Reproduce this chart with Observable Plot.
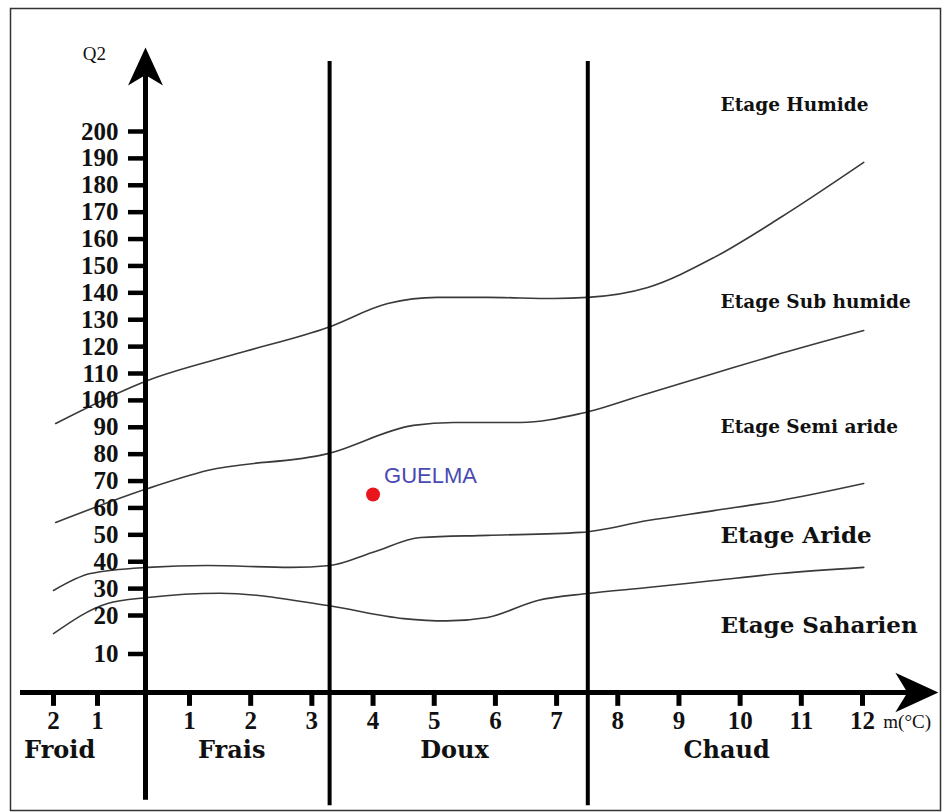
<!DOCTYPE html>
<html>
<head>
<meta charset="utf-8">
<script src="https://cdn.jsdelivr.net/npm/d3@7"></script>
<script src="https://cdn.jsdelivr.net/npm/@observablehq/plot@0.6"></script>
<style>
  body { margin: 0; background: #fff; }
</style>
</head>
<body>
<div id="chart"></div>
<script>
// ---- Data ----
const q2Ticks = [10, 20, 30, 40, 50, 60, 70, 80, 90, 100, 110, 120, 130, 140, 150, 160, 170, 180, 190, 200];
const mTicks = [-2, -1, 1, 2, 3, 4, 5, 6, 7, 8, 9, 10, 11, 12];
const mTickLabels = ["2", "1", "1", "2", "3", "4", "5", "6", "7", "8", "9", "10", "11", "12"];

const thermalZones = ["Froid", "Frais", "Doux", "Chaud"];
const thermalZoneM = [-1.86, 1.69, 5.33, 9.78];
const zoneDividersM = [3.29, 7.51];

const stagesUpper = ["Etage Humide", "Etage Sub humide", "Etage Semi aride"];
const stagesUpperQ2 = [209.7, 136.4, 89.9];
const stagesLower = ["Etage Aride", "Etage Saharien"];
const stagesLowerQ2 = [49.8, 17.4];
const stageLabelM = 9.68;

// boundary curves: m (°C) and Q2
const humideSubM  = [-1.95, 0.05, 1.78, 3.26, 4.24, 5.05, 5.87, 6.95, 7.51, 8.49, 9.57, 10.66, 12.02];
const humideSubQ2 = [91.4, 107.4, 117.4, 127.1, 136.0, 138.3, 138.3, 137.9, 138.3, 142.0, 153.1, 168.0, 188.5];

const subSemiM  = [-1.95, 0.05, 1.29, 3.26, 4.66, 5.32, 6.41, 7.39, 8.49, 9.57, 10.66, 12.02];
const subSemiQ2 = [54.6, 67.2, 73.9, 80.2, 90.7, 91.8, 91.8, 95.1, 102.6, 110.0, 117.4, 126.0];

const semiArideM  = [-2.0, -1.16, 0.05, 1.29, 2.65, 3.3, 4.0, 4.78, 5.87, 7.39, 8.49, 9.57, 10.66, 12.02];
const semiArideQ2 = [29.3, 35.6, 37.9, 38.6, 37.9, 38.6, 43.5, 49.0, 49.8, 50.9, 55.3, 59.0, 62.8, 69.1];

const arideSahM  = [-2.0, -0.79, 0.05, 1.5, 3.26, 4.5, 5.2, 5.87, 6.69, 7.51, 8.49, 9.57, 10.66, 12.02];
const arideSahQ2 = [15.3, 24.5, 26.7, 28.3, 23.7, 19.2, 18.6, 19.5, 25.6, 28.2, 30.4, 33.0, 35.6, 37.9];

const stationName = ["GUELMA"];
const stationM = [4.0];
const stationQ2 = [65.0];

// ---- Tables built from the arrays ----
const boundaries = [
  ["Humide/Sub humide", humideSubM, humideSubQ2],
  ["Sub humide/Semi aride", subSemiM, subSemiQ2],
  ["Semi aride/Aride", semiArideM, semiArideQ2],
  ["Aride/Saharien", arideSahM, arideSahQ2]
].flatMap(([name, ms, qs]) => ms.map((m, i) => ({boundary: name, m, q2: qs[i]})));

const stations = stationName.map((name, i) => ({name, m: stationM[i], q2: stationQ2[i]}));

// arrow head symbol (tip at the anchor, pointing up)
const arrowHead = {
  draw(context, size) {
    const s = Math.sqrt(size / Math.PI);
    context.moveTo(0, 0);
    context.lineTo(0.46 * s, s);
    context.lineTo(0, 0.72 * s);
    context.lineTo(-0.46 * s, s);
    context.closePath();
  }
};

const serif = "'Liberation Serif', 'Times New Roman', serif";
const wordSerif = "'DejaVu Serif', serif";

const chart = Plot.plot({
  width: 948,
  height: 812,
  marginLeft: 10,
  marginTop: 8,
  marginRight: 8,
  marginBottom: 2,
  x: {type: "linear", domain: [-2, -1, 0, 1, 12], range: [53, 97, 145, 189, 862], axis: null},
  y: {type: "linear", domain: [0, 20, 200], range: [692, 615, 131], axis: null},
  marks: [
    Plot.frame({stroke: "#333", strokeWidth: 1.5}),
    // boundary curves
    Plot.line(boundaries, {x: "m", y: "q2", z: "boundary", curve: "monotone-x", stroke: "#3a3a3a", strokeWidth: 1.6}),
    // thermal zone dividers
    Plot.ruleX(zoneDividersM, {y1: -29.4, y2: 226, stroke: "#000", strokeWidth: 4}),
    // axes lines
    Plot.ruleY([0], {x1: -2.75, x2: 13.0, stroke: "#000", strokeWidth: 5}),
    Plot.ruleX([0], {y1: -28, y2: 221, stroke: "#000", strokeWidth: 5}),
    // arrow heads
    Plot.dot([{m: 0, q2: 231.2}], {x: "m", y: "q2", symbol: arrowHead, r: 38, fill: "#000", stroke: "none"}),
    Plot.dot([{m: 13.24, q2: 0}], {x: "m", y: "q2", symbol: arrowHead, r: 43, rotate: 90, fill: "#000", stroke: "none"}),
    // y ticks + labels
    Plot.ruleY(q2Ticks, {x1: -0.354, x2: 0, stroke: "#000", strokeWidth: 4.5}),
    Plot.text(q2Ticks, {x: 0, y: d => d, text: d => String(d), textAnchor: "end", dx: -27, fontSize: 25, fontWeight: "bold", fontFamily: serif, fill: "#111"}),
    Plot.text(["Q2"], {x: -1.07, y: 229, text: d => d, fontSize: 19, fontFamily: serif, fill: "#111"}),
    // x ticks + labels
    Plot.ruleX(mTicks, {y1: 0, y2: -3.6, stroke: "#000", strokeWidth: 5}),
    Plot.text(mTicks, {x: d => d, y: 0, dy: 28, text: (d, i) => mTickLabels[i], fontSize: 25, fontWeight: "bold", fontFamily: serif, fill: "#111"}),
    Plot.text(["m(°C)"], {x: 12.34, y: 0, dy: 29, text: d => d, textAnchor: "start", fontSize: 19, fontFamily: serif, fill: "#111"}),
    // thermal zone names
    Plot.text(thermalZones, {x: (d, i) => thermalZoneM[i], y: 0, dy: 58, text: d => d, fontSize: 24, fontWeight: "bold", fontFamily: wordSerif, fill: "#111"}),
    // bioclimatic stages
    Plot.text(stagesUpper, {x: stageLabelM, y: (d, i) => stagesUpperQ2[i], text: d => d, textAnchor: "start", fontSize: 18.5, fontWeight: "bold", fontFamily: wordSerif, fill: "#111"}),
    Plot.text(stagesLower, {x: stageLabelM, y: (d, i) => stagesLowerQ2[i], text: d => d, textAnchor: "start", fontSize: 23, fontWeight: "bold", fontFamily: wordSerif, fill: "#111"}),
    // station
    Plot.dot(stations, {x: "m", y: "q2", r: 7, fill: "#e8161c", stroke: "none"}),
    Plot.text(stations, {x: "m", y: "q2", text: "name", dx: 11, dy: -19, textAnchor: "start", fontSize: 22, fontFamily: "'Liberation Sans', Arial, sans-serif", fill: "#4a4ab2"})
  ]
});

document.getElementById("chart").appendChild(chart);
</script>
</body>
</html>
